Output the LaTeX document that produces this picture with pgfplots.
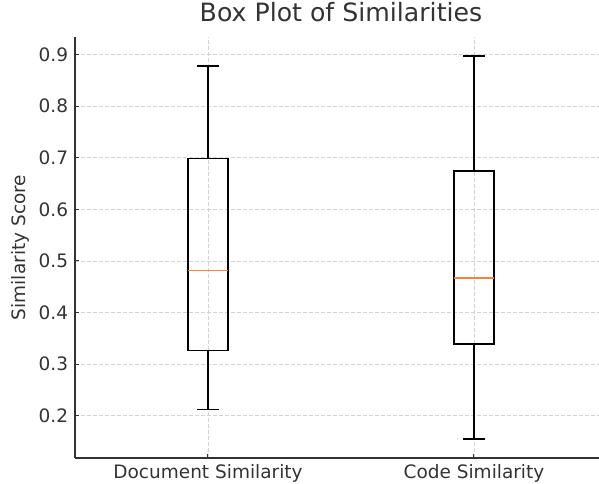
\documentclass[border=0pt]{standalone}
\usepackage{fontspec}
\setmainfont{DejaVu Sans}
\usepackage{pgfplots}
\pgfplotsset{compat=1.18}
\usepgfplotslibrary{statistics}
\definecolor{txt}{HTML}{333333}
\definecolor{grd}{HTML}{D3D3D3}
\definecolor{med}{HTML}{F5813F}
\begin{document}
\begin{tikzpicture}
\begin{axis}[
  name=ax, anchor=south west, at={(0,0)},
  width=524bp, height=421bp, scale only axis,
  xmin=0.5, xmax=2.47, ymin=0.118, ymax=0.934,
  axis lines*=left,
  axis line style={txt, line width=1.2bp},
  tick align=inside, major tick length=4bp,
  tick style={txt, line width=1bp},
  xtick={1,2}, xticklabels={Document Similarity, Code Similarity},
  ytick={0.2,0.3,0.4,0.5,0.6,0.7,0.8,0.9},
  yticklabel style={/pgf/number format/fixed, /pgf/number format/precision=1, /pgf/number format/fixed zerofill, anchor=east, xshift=-6.7bp},
  /pgf/number format/assume math mode=true,
  ticklabel style={font=\fontsize{18.5bp}{22bp}\selectfont, text=txt, inner sep=0pt},
  xticklabel style={anchor=north, yshift=-6.3bp},
  grid=major, grid style={grd, dash pattern=on 4bp off 2bp, line width=0.8bp},
  title={Box Plot of Similarities},
  title style={at={(axis description cs:0.5076,1)}, anchor=base, yshift=9.3bp, inner sep=0pt, font=\fontsize{25.2bp}{30bp}\selectfont, text=txt},
  ylabel={Similarity Score},
  every axis y label/.style={at={(axis description cs:-0.0872,0.5)}, rotate=90, anchor=south, inner sep=0pt, font=\fontsize{18.5bp}{22bp}\selectfont, text=txt},
  boxplot/draw direction=y,
  boxplot/every median/.style={draw=none},
]
\addplot[draw=black, line width=1.3bp, solid, mark=none, boxplot prepared={draw direction=y, draw position=1, lower whisker=0.212, lower quartile=0.327, median=0.481, upper quartile=0.699, upper whisker=0.878, box extend=0.15, whisker extend=0.08}] coordinates {};
\addplot[draw=black, line width=1.3bp, solid, mark=none, boxplot prepared={draw direction=y, draw position=2, lower whisker=0.155, lower quartile=0.339, median=0.467, upper quartile=0.674, upper whisker=0.897, box extend=0.15, whisker extend=0.08}] coordinates {};
% medians
\addplot[draw=med, line width=1.5bp, mark=none, line cap=butt] coordinates {(0.926,0.481) (1.074,0.481)};
\addplot[draw=med, line width=1.5bp, mark=none, line cap=butt] coordinates {(1.926,0.467) (2.074,0.467)};
\end{axis}
\pgfresetboundingbox
\path (-75bp,-26bp) rectangle (524bp,458bp);
\end{tikzpicture}
\end{document}
